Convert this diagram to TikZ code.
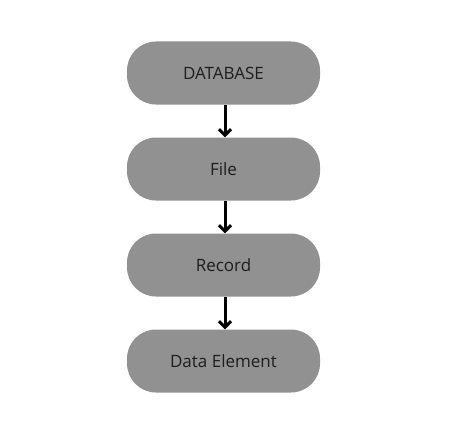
\documentclass[tikz,border=0pt]{standalone}
\usepackage{fontspec}
\setmainfont{Open Sans}
\usetikzlibrary{arrows.meta}
\definecolor{boxgray}{HTML}{919191}
\definecolor{txt}{HTML}{1E1E1E}
\begin{document}
\begin{tikzpicture}[x=1pt,y=-1pt,
  stage/.style={draw=none,fill=boxgray,rounded corners=29pt,minimum width=193pt,minimum height=63pt,inner sep=0pt,text=txt,font=\fontsize{17pt}{20pt}\selectfont},
  flow/.style={line width=3pt,-{Straight Barb[length=6pt,width=12pt,line width=3pt]}}]
\useasboundingbox (0,0) rectangle (454,441);
\fill[white] (0,0) rectangle (454,441);
\node[stage] (db) at (223.5,73) {DATABASE};
\node[stage] (file) at (223.5,169) {File};
\node[stage] (rec) at (223.5,265) {Record};
\node[stage] (el) at (223.5,361) {Data Element};
\draw[flow] ([xshift=1.5pt]db.south) -- ([xshift=1.5pt]file.north);
\draw[flow] ([xshift=1.5pt]file.south) -- ([xshift=1.5pt]rec.north);
\draw[flow] ([xshift=1.5pt]rec.south) -- ([xshift=1.5pt]el.north);
\end{tikzpicture}
\end{document}
